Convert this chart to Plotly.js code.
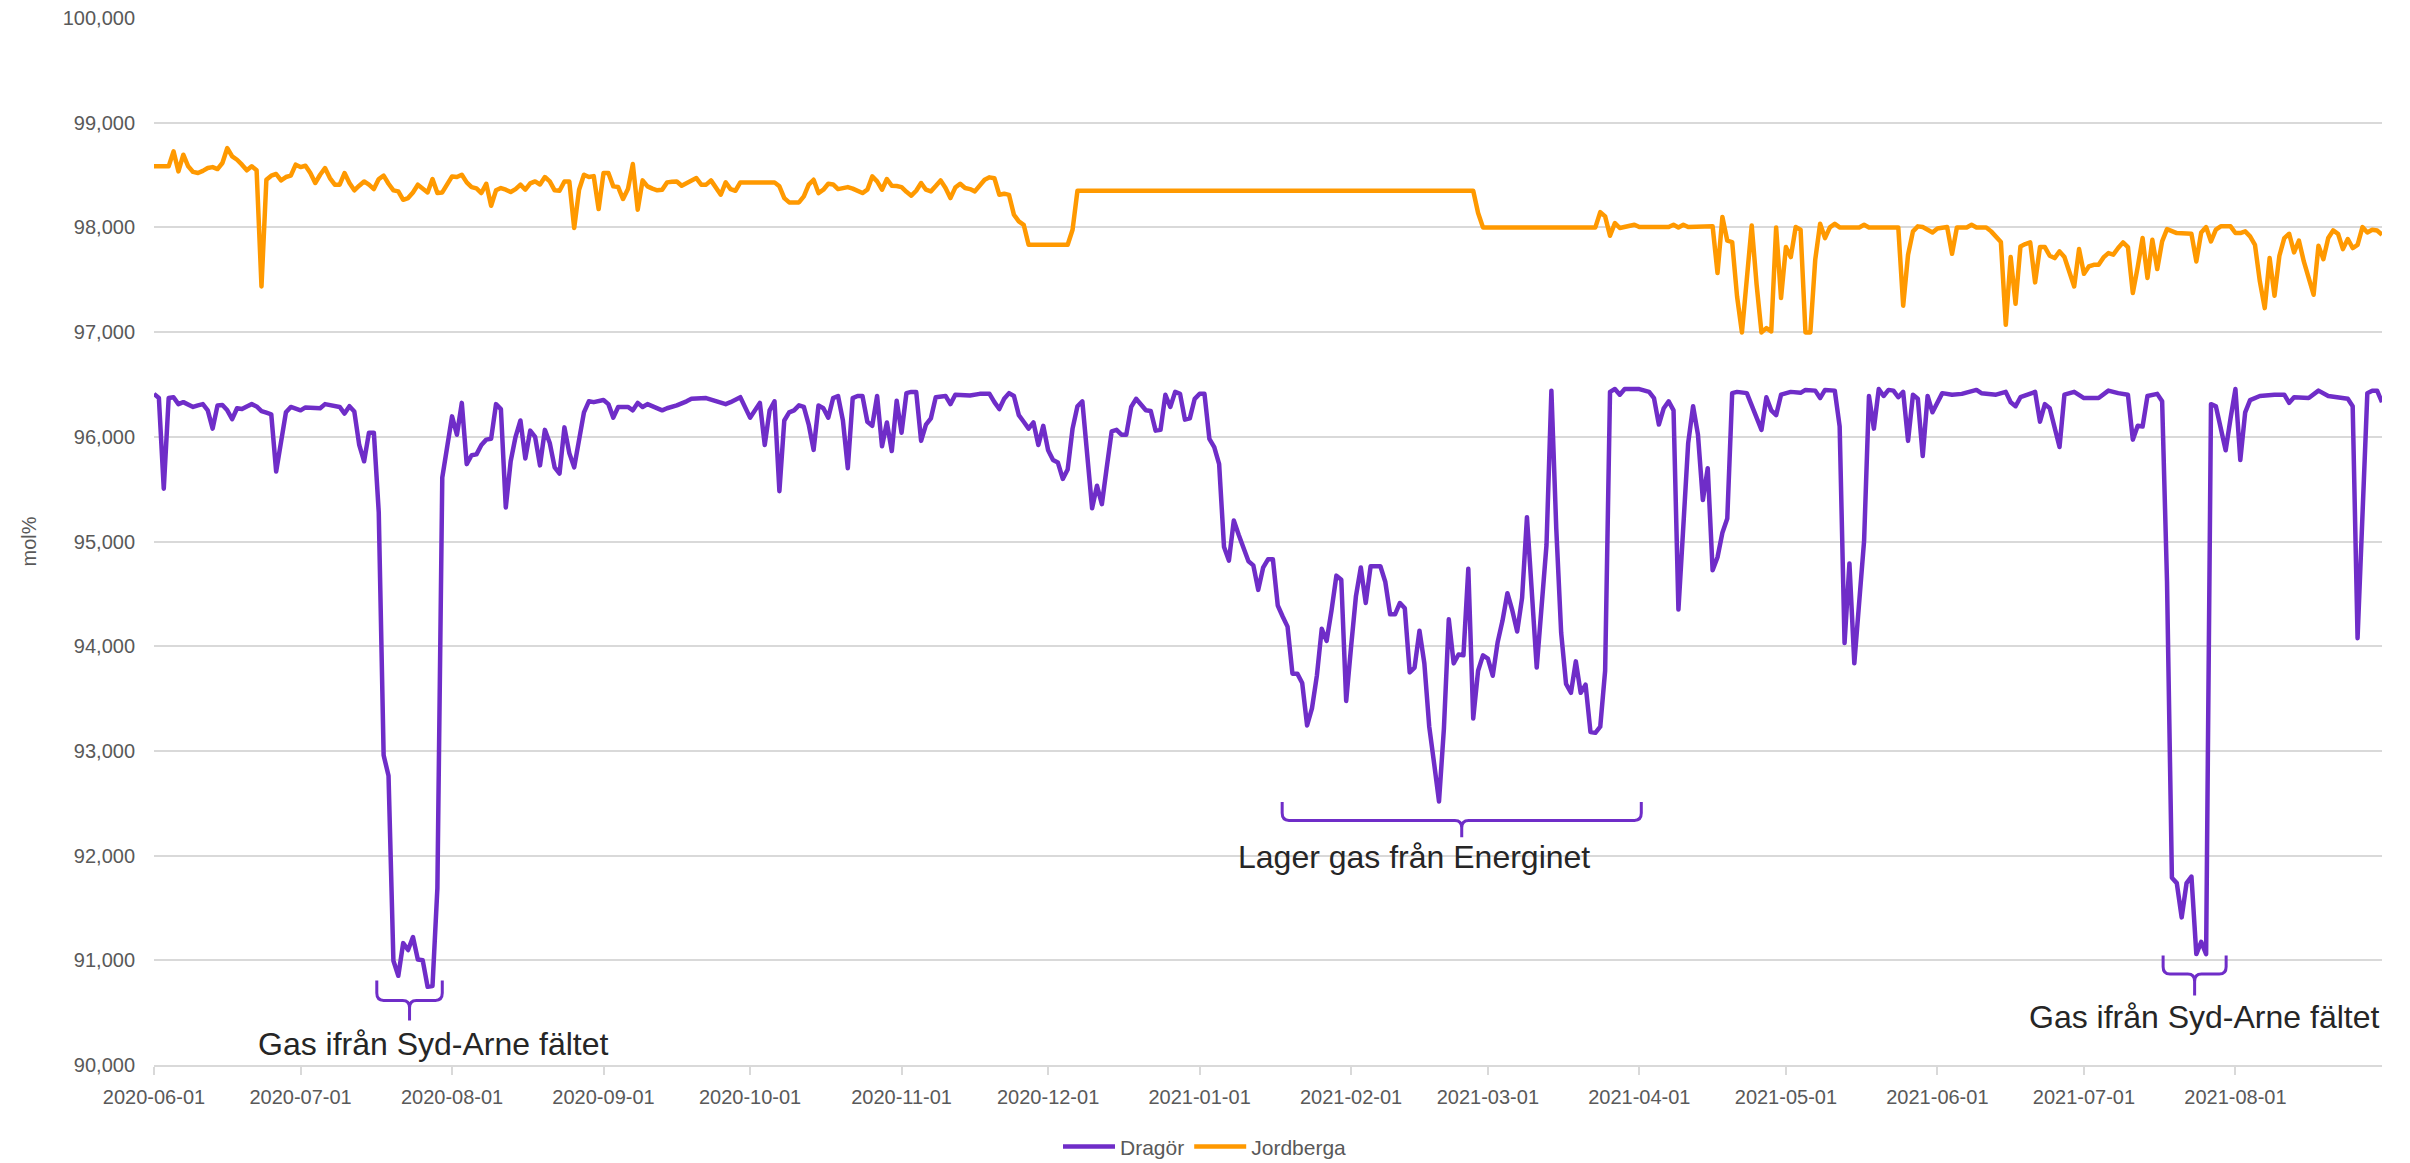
<!DOCTYPE html>
<html><head><meta charset="utf-8">
<script src="https://cdn.plot.ly/plotly-3.0.1.min.js"></script>
<style>
html,body{margin:0;padding:0;background:#fff;}
#chart{width:2410px;height:1163px;}
.js-line{stroke-linejoin:round;}
</style></head><body><div id="chart"></div>
<script>
const startDate = '2020-06-01';
const endDate = '2021-08-31';
const seriesNames = ['Dragör', 'Jordberga'];

// day offsets from startDate and values (mol%)
const jordbergaDay = [0,3,4,5,6,7,8,9,10,11,12,13,14,15,16,17,18,19,20,21,22,23,24,25,26,27,28,29,30,31,32,33,34,35,36,37,38,39,40,41,42,43,44,45,46,47,48,49,50,51,52,53,54,55,56,57,58,59,60,61,62,63,64,65,66,67,68,69,70,71,72,73,74,75,76,77,78,79,80,81,82,83,84,85,86,87,88,89,90,91,92,93,94,95,96,97,98,99,100,101,102,103,104,105,106,107,108,109,110,111,112,113,114,115,116,117,118,119,120,127,128,129,130,132,133,134,135,136,137,138,139,140,141,142,143,144,145,146,147,148,149,150,151,152,153,154,155,156,157,158,159,160,161,162,163,164,165,166,167,168,169,170,171,172,173,174,175,176,177,178,179,187,188,189,270,271,272,295,296,297,298,299,300,301,302,303,304,310,311,312,313,314,319,320,321,322,323,324,325,326,327,328,329,330,331,332,333,334,335,336,337,338,339,340,341,342,343,344,345,349,350,351,357,358,359,360,361,362,363,364,365,367,368,369,371,372,373,375,376,378,379,380,381,382,383,384,385,386,387,388,389,390,391,392,393,394,395,396,397,398,399,400,401,402,403,404,405,406,407,408,409,410,411,412,414,417,418,419,420,421,422,423,425,426,427,428,429,430,431,432,433,434,435,436,437,438,439,440,441,442,443,444,445,446,447,448,449,450,451,452,453,454,455,456];
const jordbergaVal = [98583,98583,98726,98535,98694,98583,98530,98519,98540,98567,98576,98557,98615,98758,98678,98646,98599,98545,98583,98545,97436,98455,98494,98510,98449,98481,98494,98599,98576,98589,98519,98424,98503,98567,98471,98408,98408,98519,98424,98354,98398,98439,98408,98366,98462,98494,98417,98354,98344,98264,98280,98334,98408,98376,98334,98462,98328,98334,98408,98487,98481,98503,98430,98385,98373,98328,98417,98207,98354,98376,98360,98338,98366,98408,98360,98420,98439,98410,98481,98439,98354,98350,98439,98439,97994,98360,98503,98481,98490,98175,98519,98519,98392,98385,98271,98366,98605,98169,98449,98392,98370,98354,98360,98430,98435,98439,98398,98420,98439,98471,98408,98408,98449,98376,98312,98430,98366,98350,98430,98430,98392,98280,98239,98239,98296,98408,98455,98328,98360,98417,98410,98366,98375,98385,98370,98350,98328,98360,98487,98439,98360,98462,98398,98395,98385,98340,98303,98350,98424,98360,98344,98395,98449,98376,98280,98380,98417,98376,98366,98344,98395,98455,98478,98470,98312,98322,98310,98121,98057,98025,97834,97834,97978,98350,98350,98137,98000,98000,98146,98105,97920,98041,97994,98003,98010,98025,98003,98003,98025,98000,98025,98003,98010,97564,98099,97873,97860,97341,96997,97532,98019,97455,96997,97038,97006,98000,97325,97812,97717,98003,97978,96997,96997,97691,98035,97898,98000,98035,98000,98000,98025,98000,98000,97252,97739,97962,98010,98003,97971,97952,97990,98003,97748,98000,98000,98025,98000,98000,97962,97860,97070,97717,97271,97818,97841,97857,97475,97812,97812,97729,97707,97771,97717,97564,97436,97793,97557,97627,97643,97643,97713,97755,97740,97803,97857,97812,97373,97621,97898,97516,97882,97602,97866,97984,97946,97939,97675,97952,98003,97866,97978,98010,98010,97946,97946,97962,97914,97834,97484,97229,97707,97347,97729,97898,97939,97761,97873,97675,97500,97357,97825,97697,97898,97971,97939,97793,97889,97803,97834,98003,97952,97978,97970,97930];

const dragorDay = [0,1,2,3,4,5,6,7,8,9,10,11,12,13,14,15,16,17,18,19,20,21,22,23,24,25,26,27,28,29,30,31,32,33,34,35,36,37,38,39,40,41,42,43,44,45,46,47,48,49,50,51,52,53,54,55,56,57,58,59,60,61,62,63,64,65,66,67,68,69,70,71,72,73,74,75,76,77,78,79,80,81,82,83,84,85,86,87,88,89,90,92,93,94,95,97,98,99,100,101,103,104,105,107,109,110,113,115,117,118,120,122,123,124,125,126,127,128,129,130,131,132,133,134,135,136,137,138,139,140,141,142,143,144,145,146,147,148,149,150,151,152,153,154,155,156,157,158,159,160,162,163,164,167,169,171,172,173,174,175,176,177,178,179,180,181,182,183,184,185,186,187,188,189,190,191,192,193,194,195,196,197,198,199,200,201,202,203,204,205,206,207,208,209,210,211,212,213,214,215,216,217,218,219,220,221,222,223,224,225,226,227,228,229,230,231,232,233,234,235,236,237,238,239,240,241,242,243,244,245,246,247,248,249,251,252,253,254,255,256,257,258,259,260,261,262,263,264,265,266,267,268,269,270,271,272,273,274,275,276,277,278,279,280,281,283,284,285,286,287,288,289,290,291,292,293,294,295,296,297,298,299,300,301,304,306,307,308,309,310,311,312,313,314,315,316,317,318,319,320,321,322,323,324,326,327,329,330,331,332,333,335,337,338,340,341,342,344,345,346,347,348,349,350,351,352,353,354,355,356,357,358,359,360,361,362,363,364,366,368,370,373,374,377,379,380,381,382,385,386,387,388,390,391,393,395,398,400,402,404,405,406,407,408,410,411,412,413,414,415,416,417,418,419,420,421,422,423,424,425,426,427,428,429,431,434,436,437,438,441,443,445,449,450,451,453,454,455,456];
const dragorVal = [96410,96370,95505,96370,96378,96312,96331,96310,96285,96300,96312,96253,96078,96300,96304,96253,96168,96273,96265,96290,96312,96290,96246,96230,96215,95668,95950,96234,96285,96270,96253,96281,96277,96275,96273,96312,96305,96295,96285,96222,96292,96242,95922,95766,96039,96039,95279,92958,92763,90996,90852,91164,91098,91222,91008,91000,90747,90755,91690,95610,95883,96195,96020,96324,95739,95824,95832,95922,95973,95981,96312,96265,95325,95766,96000,96156,95793,96059,96000,95727,96066,95941,95708,95649,96090,95844,95708,95981,96234,96339,96331,96351,96312,96183,96285,96285,96253,96324,96285,96312,96273,96253,96273,96300,96339,96363,96370,96339,96312,96331,96378,96183,96261,96324,95922,96253,96339,95481,96156,96234,96253,96300,96285,96117,95875,96300,96273,96183,96370,96390,96156,95700,96370,96390,96390,96144,96105,96390,95910,96137,95864,96345,96039,96417,96429,96429,95961,96117,96176,96378,96390,96312,96402,96394,96410,96410,96331,96265,96363,96417,96390,96207,96144,96078,96137,95922,96105,95871,95778,95754,95598,95688,96078,96292,96339,95864,95318,95532,95357,95708,96051,96066,96020,96020,96285,96363,96312,96253,96246,96059,96066,96402,96285,96429,96410,96164,96176,96363,96410,96410,95981,95902,95739,94947,94818,95201,95064,94928,94811,94772,94538,94750,94830,94830,94389,94284,94187,93738,93738,93648,93243,93406,93718,94167,94050,94342,94674,94635,93477,93992,94479,94752,94413,94764,94764,94616,94304,94304,94413,94362,93750,93796,94148,93836,93231,92880,92517,93211,94257,93836,93921,93913,94740,93309,93765,93913,93882,93718,94038,94245,94506,94342,94140,94460,95232,93796,94382,94967,96441,95123,94128,93640,93555,93855,93555,93633,93180,93173,93231,93765,96429,96456,96402,96456,96456,96429,96370,96117,96273,96339,96253,94350,95142,95941,96292,96020,95396,95700,94725,94850,95084,95220,96417,96429,96417,96292,96066,96378,96253,96207,96402,96429,96420,96448,96441,96370,96448,96441,96098,94030,94791,93836,94440,95006,96390,96078,96456,96390,96448,96441,96378,96429,95961,96402,96363,95817,96390,96234,96417,96402,96410,96448,96417,96402,96429,96330,96292,96378,96429,96144,96312,96273,95902,96402,96429,96370,96370,96441,96417,96402,95973,96105,96098,96390,96410,96339,94616,91788,91737,91410,91737,91800,91059,91176,91059,96312,96292,96098,95871,96176,96456,95778,96234,96351,96390,96402,96402,96324,96378,96370,96441,96390,96363,96292,94077,96417,96441,96441,96331];

const purple = '#6f2dc8';
const orange = '#ff9900';
const fontFam = '"Liberation Sans", Arial, sans-serif';

const t0 = Date.UTC(2020, 5, 1);
function dayToDate(d, sep) {
  const dt = new Date(t0 + d * 86400000);
  const iso = dt.toISOString();
  return iso.slice(0, 10) + (sep || ' ') + iso.slice(11, 19);
}

// annotation brackets: [startDay, endDay, topValue, barValue, tipValue]
const brackets = [
  [45.6, 59.0, 90808, 90617, 90426],
  [230.9, 304.4, 92513, 92336, 92175],
  [411.2, 424.1, 91045, 90868, 90663]
];
const labels = [
  {text: 'Gas ifrån Syd-Arne fältet', day: 57.0, y: 90205},
  {text: 'Lager gas från Energinet', day: 257.9, y: 91985},
  {text: 'Gas ifrån Syd-Arne fältet', day: 419.5, y: 90457}
];

function bracePath(b) {
  const [d0, d1, top, bar, tip] = b;
  const dm = (d0 + d1) / 2, rx = 1.4, ry = 70;
  const X = d => dayToDate(d, '_');
  return `M${X(d0)},${top} L${X(d0)},${bar + ry} Q${X(d0)},${bar} ${X(d0 + rx)},${bar} ` +
    `L${X(dm - rx)},${bar} Q${X(dm)},${bar} ${X(dm)},${bar - ry} L${X(dm)},${tip} ` +
    `M${X(dm)},${bar - ry} Q${X(dm)},${bar} ${X(dm + rx)},${bar} ` +
    `L${X(d1 - rx)},${bar} Q${X(d1)},${bar} ${X(d1)},${bar + ry} L${X(d1)},${top}`;
}

const traces = [
  {x: dragorDay.map(d => dayToDate(d)), y: dragorVal, name: seriesNames[0], type: 'scatter', mode: 'lines',
   line: {color: purple, width: 4.5}},
  {x: jordbergaDay.map(d => dayToDate(d)), y: jordbergaVal, name: seriesNames[1], type: 'scatter', mode: 'lines',
   line: {color: orange, width: 4.5}}
];

const layout = {
  width: 2410, height: 1163,
  margin: {l: 154, r: 28, t: 18, b: 98, autoexpand: false},
  paper_bgcolor: '#fff', plot_bgcolor: '#fff',
  font: {family: fontFam, size: 20, color: '#595959'},
  showlegend: true,
  legend: {orientation: 'h', x: 0.5, xanchor: 'center', xref: 'container', yref: 'container',
           y: 0.0138, yanchor: 'middle', itemwidth: 52,
           font: {size: 21, color: '#595959'}, traceorder: 'normal'},
  xaxis: {type: 'date', range: [startDate, endDate], tickformat: '%Y-%m-%d', dtick: 'M1', tick0: startDate,
          showgrid: false, showline: true, linecolor: '#d9d9d9', linewidth: 2,
          ticks: 'outside', ticklen: 8, tickcolor: '#d9d9d9', tickwidth: 2,
          ticklabelstandoff: 5,
          tickfont: {size: 20, color: '#595959'}, zeroline: false},
  yaxis: {range: [90000, 100000], dtick: 1000, tick0: 90000, tickformat: ',d',
          showgrid: true, gridcolor: '#d9d9d9', gridwidth: 2, zeroline: false, showline: false,
          ticklabelstandoff: 18,
          tickfont: {size: 20, color: '#595959'},
          title: {text: 'mol%', font: {size: 20, color: '#595959'}, standoff: 20}},
  shapes: brackets.map(b => ({type: 'path', xref: 'x', yref: 'y', path: bracePath(b),
                              line: {color: purple, width: 3}})),
  annotations: labels.map(l => ({text: l.text, x: dayToDate(l.day), y: l.y, xref: 'x', yref: 'y',
                                 showarrow: false, xanchor: 'center', yanchor: 'middle',
                                 font: {size: 32, color: '#262626', family: fontFam}}))
};

Plotly.newPlot('chart', traces, layout, {displayModeBar: false, staticPlot: true});
</script></body></html>
